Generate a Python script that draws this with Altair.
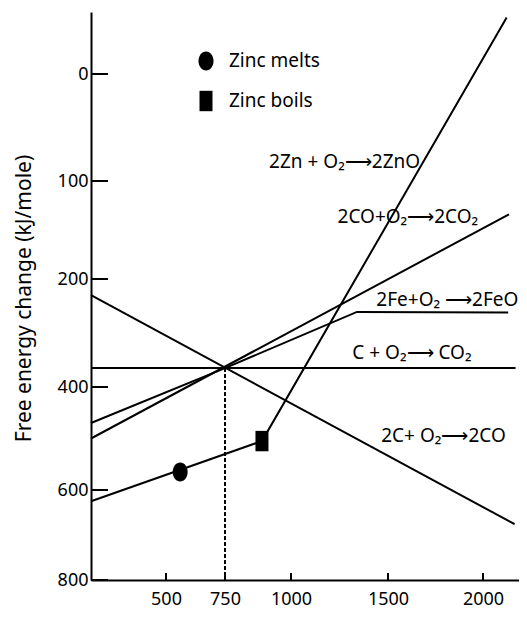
import altair as alt
import pandas as pd

# ---- values (temperature in °C, free energy in kJ/mole) ----
zn_T = [180, 890, 2125]
zn_G = [625, 505, -52]
co_co2_T = [180, 2137]
co_co2_G = [500, 134]
fe_T = [180, 750, 1340, 2133]
fe_G = [470, 365, 261, 262]
c_co2_T = [180, 2172]
c_co2_G = [365, 365]
c_co_T = [180, 2167]
c_co_G = [230, 676]

event_names = ["Zinc melts", "Zinc boils"]
event_T = [560, 890]
event_G = [565, 505]

guide_T = [750, 750]
guide_G = [365, 800]

x_ticks = [500, 750, 1000, 1500, 2000]
y_ticks = [0, 100, 200, 400, 600, 800]

labels_left = ["2Zn + O₂⟶2ZnO", "2CO+O₂⟶2CO₂", "2Fe+O₂ ⟶2FeO"]
labels_left_T = [917, 1240, 1440]
labels_left_G = [82, 137, 238]
labels_right = ["C + O₂⟶ CO₂", "2C+ O₂⟶2CO"]
labels_right_T = [1940, 2120]
labels_right_G = [337, 496]

# ---- tables ----
rows = []
for name, Ts, Gs in [
    ("Zn", zn_T, zn_G),
    ("CO_CO2", co_co2_T, co_co2_G),
    ("Fe", fe_T, fe_G),
    ("C_CO2", c_co2_T, c_co2_G),
    ("C_CO", c_co_T, c_co_G),
]:
    for i, (t, g) in enumerate(zip(Ts, Gs)):
        rows.append({"T": t, "G": g, "reaction": name, "order": i})
lines_df = pd.DataFrame(rows)
events_df = pd.DataFrame({"T": event_T, "G": event_G, "event": event_names})
guide_df = pd.DataFrame({"T": guide_T, "G": guide_G, "order": [0, 1]})
xt_df = pd.DataFrame({"T": x_ticks})
yt_df = pd.DataFrame({"G": y_ticks})
lab_l_df = pd.DataFrame({"T": labels_left_T, "G": labels_left_G, "label": labels_left})
lab_r_df = pd.DataFrame({"T": labels_right_T, "G": labels_right_G, "label": labels_right})

FONT = "Noto Sans"
W, H = 428, 568

# piecewise scales (the original axis is not evenly spaced)
x_scale = alt.Scale(domain=[180, 500, 750, 1000, 1500, 2000, 2190],
                    range=[0, 75, 134, 200, 297, 392, 428], nice=False, zero=False)
y_scale = alt.Scale(domain=[-57, 0, 100, 200, 400, 600, 800],
                    range=[0, 62, 169, 267, 375, 478, 568], nice=False, zero=False)

x_axis = alt.Axis(values=x_ticks, format="d", ticks=False, tickSize=0, grid=False,
                  domainColor="black", domainWidth=2, labelFont=FONT, labelFontSize=18,
                  labelColor="black", labelPadding=10, labelOverlap=False,
                  labelFlush=False, title=None)
y_axis = alt.Axis(values=y_ticks, format="d", ticks=False, tickSize=0, grid=False,
                  domainColor="black", domainWidth=2, labelFont=FONT, labelFontSize=18,
                  labelColor="black", labelPadding=3, labelOverlap=False, labelFlush=False,
                  title="Free energy change (kJ/mole)", titleFont=FONT, titleFontSize=21,
                  titleFontWeight="normal", titleColor="black", titleX=-67, titleY=286,
                  titleAngle=270, titleAlign="center", titleBaseline="middle")


def X():
    return alt.X("T:Q", scale=x_scale, axis=x_axis)


def Y():
    return alt.Y("G:Q", scale=y_scale, axis=y_axis)


lines = alt.Chart(lines_df).mark_line(color="black", strokeWidth=2).encode(
    x=X(), y=Y(), detail="reaction:N", order="order:Q")

guide = alt.Chart(guide_df).mark_line(color="black", strokeWidth=2, strokeDash=[4, 2]).encode(
    x=X(), y=Y(), order="order:Q")

ellipse = "M-0.75,0A0.75,0.95,0,1,0,0.75,0A0.75,0.95,0,1,0,-0.75,0Z"
rect = "M-0.65,-1.02L0.65,-1.02L0.65,1.02L-0.65,1.02Z"

points = alt.Chart(events_df).mark_point(filled=True, color="black", opacity=1, size=400,
                                         strokeWidth=0).encode(
    x=X(), y=Y(),
    shape=alt.Shape("event:N", scale=alt.Scale(domain=event_names, range=[ellipse, rect]),
                    legend=alt.Legend(title=None, orient="none", legendX=105, legendY=39,
                                      padding=0, labelFont=FONT, labelFontSize=19,
                                      labelColor="black", labelOffset=13, rowPadding=19,
                                      symbolFillColor="black", symbolStrokeWidth=0,
                                      symbolSize=400, symbolOpacity=1, labelLimit=0)))

xticks = alt.Chart(xt_df).mark_rule(color="black", strokeWidth=2).encode(
    x=X(), y=alt.value(H), y2=alt.value(H - 7))
yticks = alt.Chart(yt_df).mark_rule(color="black", strokeWidth=2).encode(
    y=Y(), x=alt.value(0), x2=alt.value(17))

text_l = alt.Chart(lab_l_df).mark_text(align="left", baseline="middle", font=FONT,
                                       fontSize=19, color="black").encode(
    x=X(), y=Y(), text="label:N")
text_r = alt.Chart(lab_r_df).mark_text(align="right", baseline="middle", font=FONT,
                                       fontSize=19, color="black").encode(
    x=X(), y=Y(), text="label:N")

chart = alt.layer(lines, guide, xticks, yticks, points, text_l, text_r).properties(
    width=W, height=H,
    autosize=alt.AutoSizeParams(type="none"),
    padding={"left": 83, "top": 4, "right": 0, "bottom": 31},
    background="white",
).configure_view(stroke=None)

chart.save("out.html", embed_options={"renderer": "svg", "actions": False})
